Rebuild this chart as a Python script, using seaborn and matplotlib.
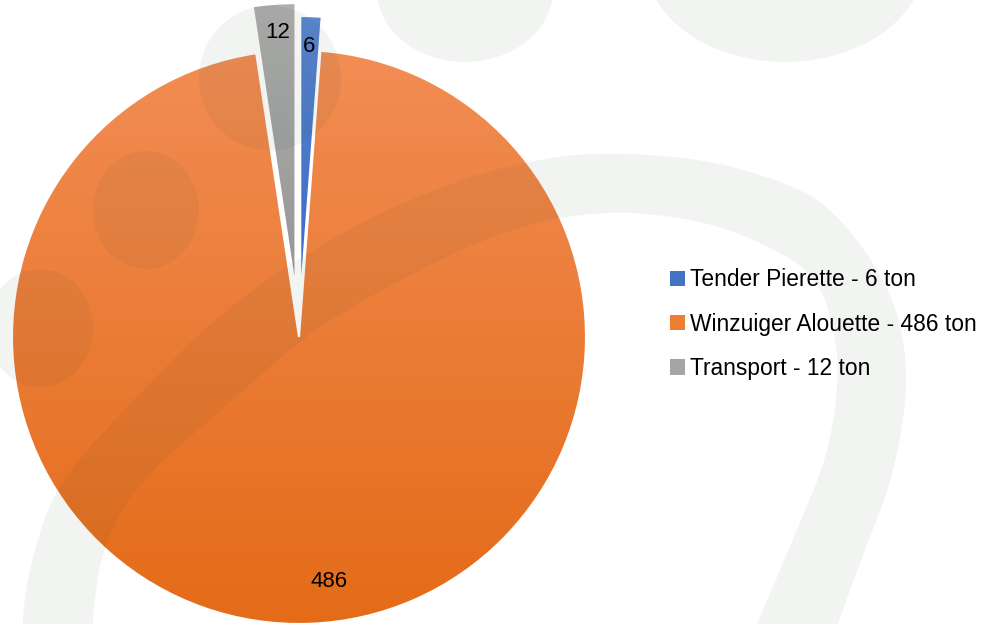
import numpy as np
import matplotlib
matplotlib.use("Agg")
import matplotlib.pyplot as plt
import seaborn as sns
from matplotlib.colors import LinearSegmentedColormap
from matplotlib.patches import Ellipse, Polygon, Patch

# data
categories = ["Tender Pierette", "Winzuiger Alouette", "Transport"]
tons = [6, 486, 12]
legend_labels = [f"{c} - {v} ton" for c, v in zip(categories, tons)]

# styling
explode_px = [34, 0, 47]  # matplotlib's explode is in data units (pixels here)
solid_colors = ["#4472C4", "#ED7D31", "#A5A5A5"]
top_colors = ["#5B87D2", "#F28D54", "#B0B0AF"]
bottom_colors = ["#3A66C2", "#E46B18", "#959595"]
label_nudge = [(-1, -2), (20, 14), (2, 0)]  # pixels, x right / y up

sns.set_style("white")
plt.rcParams["font.family"] = ["Liberation Sans", "DejaVu Sans"]

W, H = 995, 624
fig = plt.figure(figsize=(W / 100, H / 100), dpi=100)
ax = fig.add_axes([0, 0, 1, 1])

cx, cy, r = 299, H - 337, 287
total = sum(tons)
wedges, _, autotexts = ax.pie(
    tons, explode=explode_px, colors=solid_colors, startangle=90,
    counterclock=False, center=(cx, cy), radius=r,
    autopct=lambda p: f"{p * total / 100:.0f}", pctdistance=0.9,
    wedgeprops=dict(edgecolor="white", linewidth=1.5),
    textprops=dict(fontsize=16, color="black"),
)

# vertical gradient fill of each slice
grad = np.linspace(0, 1, 256).reshape(-1, 1)
for w, top, bot in zip(wedges, top_colors, bottom_colors):
    verts = w.get_path().vertices
    x0, y0 = verts.min(axis=0)
    x1, y1 = verts.max(axis=0)
    cmap = LinearSegmentedColormap.from_list("g", [bot, top])
    im = ax.imshow(grad, cmap=cmap, extent=(x0, x1, y0, y1), origin="lower",
                   aspect="auto", zorder=0.9, interpolation="bilinear")
    im.set_clip_path(w)
    w.set_facecolor("none")
    w.set_zorder(1)

for t, (dx, dy) in zip(autotexts, label_nudge):
    x, y = t.get_position()
    t.set_position((x + dx, y + dy))
    t.set_zorder(5)


# faint watermark shapes in the background
def chaikin(pts, n=4):
    pts = np.asarray(pts, float)
    for _ in range(n):
        q = 0.75 * pts[:-1] + 0.25 * pts[1:]
        s = 0.25 * pts[:-1] + 0.75 * pts[1:]
        new = np.empty((2 * len(q), 2))
        new[0::2] = q
        new[1::2] = s
        pts = np.vstack([pts[:1], new, pts[-1:]])
    return pts


outer = [(22, 640), (24, 600), (34, 550), (57, 483), (133, 400), (233, 300),
         (367, 217), (467, 177), (533, 160), (600, 152), (700, 158), (780, 180),
         (833, 207), (893, 290), (910, 373), (895, 473), (862, 557), (832, 640)]
inner = [(92, 640), (94, 600), (105, 540), (140, 480), (233, 400), (300, 340),
         (367, 297), (500, 230), (600, 210), (690, 218), (750, 237), (817, 273),
         (837, 340), (838, 390), (827, 457), (800, 523), (750, 640)]
band = np.vstack([chaikin(outer), chaikin(inner)[::-1]])
band[:, 1] = H - band[:, 1]
wm = dict(facecolor="#2a4530", alpha=0.06, edgecolor="none", zorder=2)
ax.add_patch(Polygon(band, closed=True, **wm))
for ex, ey, ew, eh in [(146, 210, 106, 118), (40, 328, 106, 118), (270, 78, 142, 145),
                       (465, -10, 176, 144), (785, -40, 280, 204)]:
    ax.add_patch(Ellipse((ex, H - ey), ew, eh, **wm))

ax.set_xlim(0, W)
ax.set_ylim(0, H)
ax.set_aspect("equal")
ax.axis("off")

handles = [Patch(facecolor=c, edgecolor="none") for c in solid_colors]
fig.legend(handles, legend_labels, loc="center left",
           bbox_to_anchor=(670 / W, 1 - 324 / H), frameon=False, fontsize=16.4,
           handlelength=0.68, handleheight=0.68, handletextpad=0.2,
           labelspacing=0.93, borderpad=0, borderaxespad=0, labelcolor="black")

fig.savefig("out.png", dpi=100)
